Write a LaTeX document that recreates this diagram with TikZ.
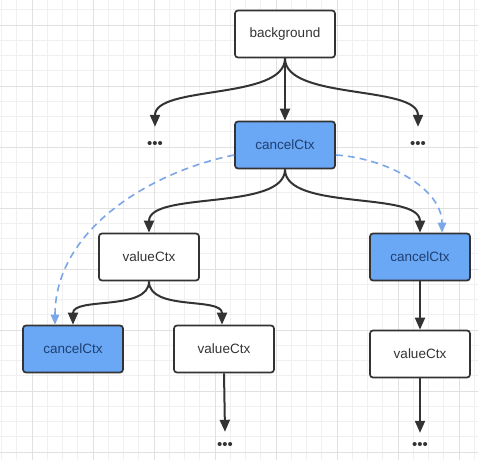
\documentclass[tikz,border=0pt]{standalone}
\usepackage{fontspec}
\setmainfont{Liberation Sans}
\usetikzlibrary{arrows.meta}
\definecolor{ink}{HTML}{333333}
\definecolor{boxblue}{HTML}{6AA8F5}
\definecolor{bluetext}{HTML}{1E3F70}
\definecolor{linkblue}{HTML}{7BA6E8}
\definecolor{gridminor}{HTML}{F0F0F0}
\definecolor{gridmajor}{HTML}{E1E1E1}
\tikzset{
  ctxbox/.style={draw=ink, line width=1.7pt, rounded corners=3pt, fill=white,
    minimum width=100pt, minimum height=47pt, inner sep=0pt, text=ink,
    font=\fontsize{13.5}{16}\selectfont},
  cancelbox/.style={ctxbox, fill=boxblue, text=bluetext},
  more/.style={inner sep=0pt, minimum width=20pt, text=ink,
    font=\fontsize{15}{16}\selectfont},
  conn/.style={draw=ink, line width=2pt, -{Triangle[length=12pt,width=10pt]}},
  link/.style={draw=linkblue, line width=1.6pt, dash pattern=on 7pt off 5pt,
    -{Triangle[length=10pt,width=8.5pt]}},
}
\begin{document}
\begin{tikzpicture}[x=1pt,y=-1pt]
  % canvas and grid paper
  \fill[white] (0,0) rectangle (478,460);
  \useasboundingbox (0,0) rectangle (478,460);
  \foreach \i in {0,...,31} {
    \draw[gridminor, line width=0.8pt] (1.5+15.25*\i,0) -- ++(0,460);
    \draw[gridminor, line width=0.8pt] (0,9.75+15.25*\i) -- ++(478,0);
  }
  \foreach \i in {0,...,7} {
    \draw[gridmajor, line width=0.9pt] (32+61*\i,0) -- ++(0,460);
    \draw[gridmajor, line width=0.9pt] (0,25+61*\i) -- ++(478,0);
  }

  % context tree
  \node[ctxbox]    (bg) at (285,34)  {background};
  \node[cancelbox] (cc) at (285,145) {cancelCtx};
  \node[more, minimum height=36pt] (dl) at (155,145) {•••};
  \node[more, minimum height=36pt] (dr) at (418,145) {•••};
  \node[ctxbox]    (v1) at (149,257) {valueCtx};
  \node[cancelbox] (rc) at (420,257) {cancelCtx};
  \node[cancelbox] (lc) at (73,349)  {cancelCtx};
  \node[ctxbox]    (v2) at (224,349) {valueCtx};
  \node[ctxbox]    (v3) at (420,354) {valueCtx};
  \node[more, minimum height=28pt] (d2) at (225,446) {•••};
  \node[more, minimum height=26pt] (d3) at (420,446) {•••};

  % parent -> child edges
  \draw[conn] (bg.south) -- (cc.north);
  \draw[conn] (bg.south) .. controls +(0,42) and +(0,-42) .. (dl.north);
  \draw[conn] (bg.south) .. controls +(0,42) and +(0,-42) .. (dr.north);
  \draw[conn] (cc.south) .. controls +(0,42) and +(0,-42) .. (v1.north);
  \draw[conn] (cc.south) .. controls +(0,42) and +(0,-42) .. (rc.north);
  \draw[conn] (v1.south) .. controls +(0,30) and +(0,-28) .. (lc.north);
  \draw[conn] (v1.south) .. controls +(0,30) and +(0,-28) .. ([xshift=-2pt]v2.north);
  \draw[conn] (rc.south) -- (v3.north);
  \draw[conn] (v2.south) -- (d2.north);
  \draw[conn] (v3.south) -- (d3.north);

  % cancellation links
  \draw[link] ([yshift=-10pt]cc.west) .. controls (150,172) and +(0,-95) .. ([xshift=-18pt]lc.north);
  \draw[link] ([yshift=-10pt]cc.east) .. controls (385,158) and +(0,-45) .. ([xshift=22pt]rc.north);
\end{tikzpicture}
\end{document}
